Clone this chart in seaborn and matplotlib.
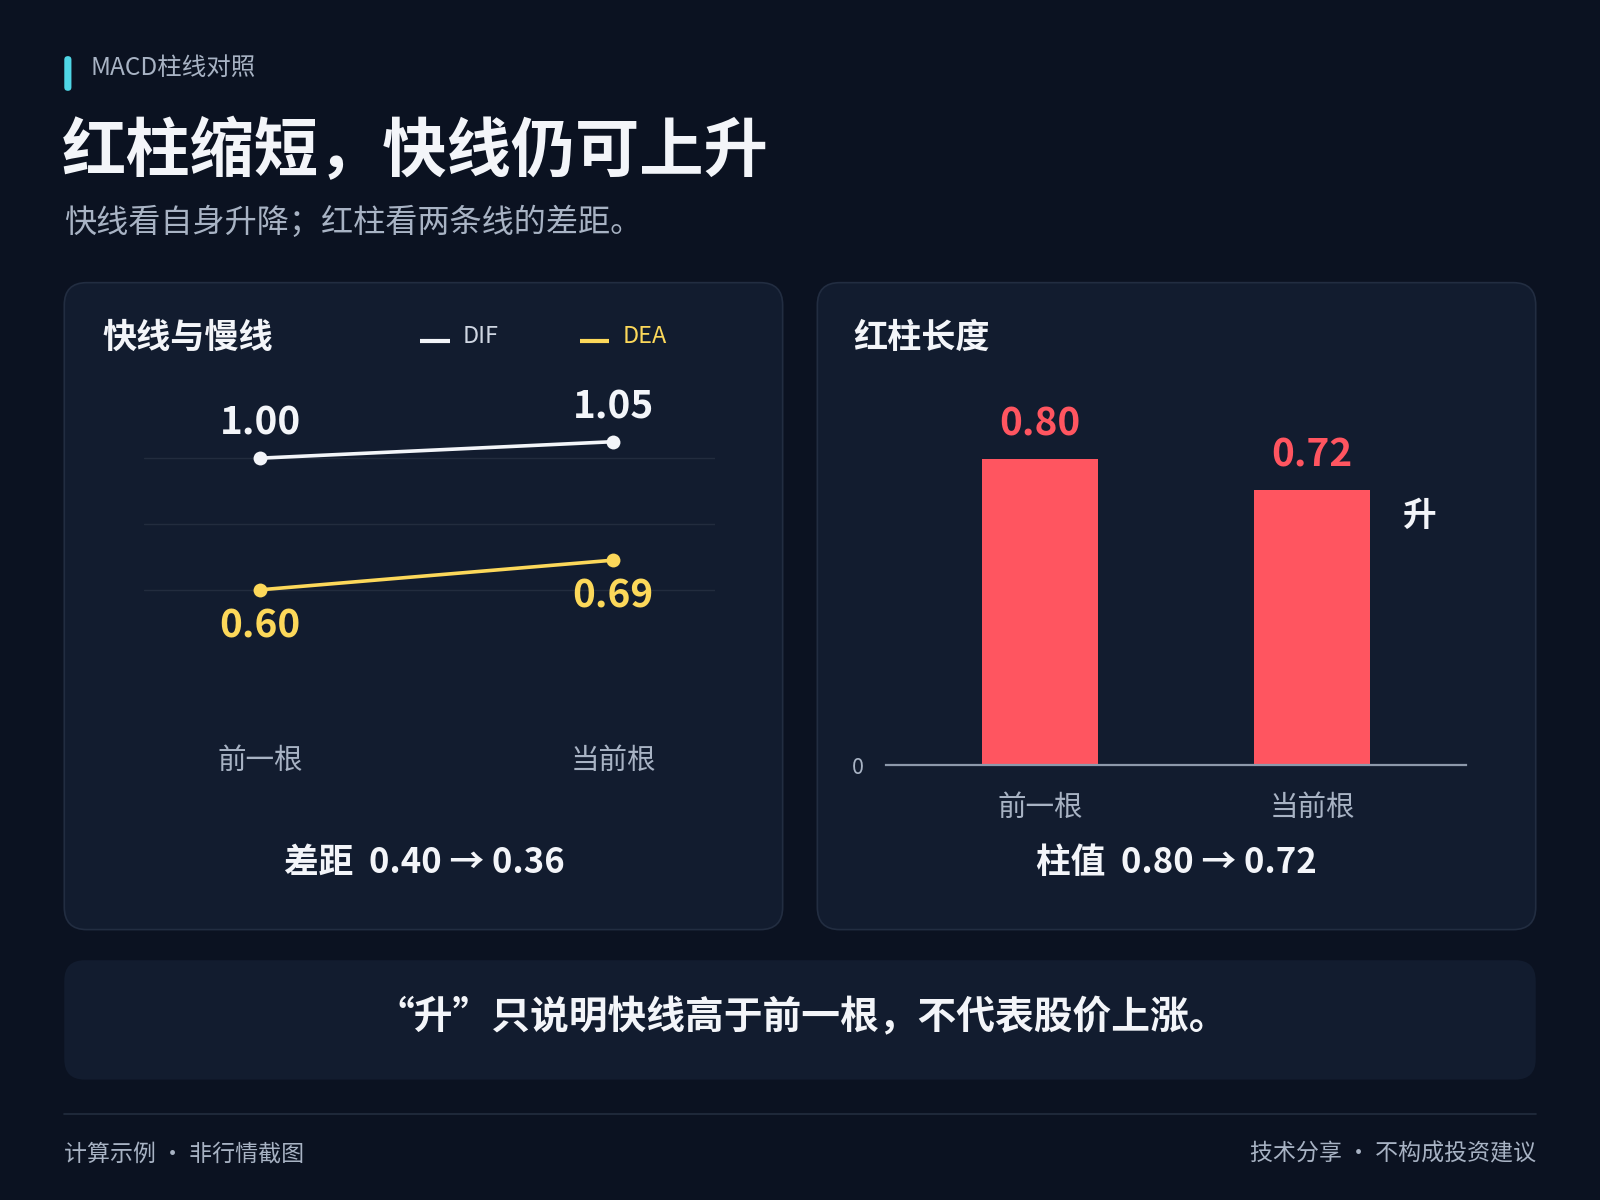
import matplotlib
matplotlib.use('Agg')
import matplotlib.pyplot as plt
from matplotlib.patches import FancyBboxPatch
import seaborn as sns

# data
bars = ['前一根', '当前根']
dif = [1.00, 1.05]
dea = [0.60, 0.69]
hist = [0.80, 0.72]
gap_text = '差距  0.40 → 0.36'
hist_text = '柱值  0.80 → 0.72'

# colours
BG = '#0b1221'
PANEL = '#121c2f'
BORDER = '#222d41'
GRID = '#222c3e'
WHITE = '#f3f5f9'
YELLOW = '#fcd85a'
RED = '#ff5560'
GREY = '#a8b3c4'
CYAN = '#4fd6e6'

sns.set_theme(style='dark')
plt.rcParams['font.family'] = ['Noto Sans CJK SC', 'DejaVu Sans']

W, H = 1568, 1176  # reference pixel grid
DY = 3  # CJK font sits a little high with va='center'


def pt(px):
    # reference pixels -> points on a 1600px wide figure at dpi 100
    return px * 1600 / W * 0.72


def box(x0, y0, x1, y1):
    return [x0 / W, 1 - y1 / H, (x1 - x0) / W, (y1 - y0) / H]


fig = plt.figure(figsize=(16, 12), dpi=100, facecolor=BG)
bg = fig.add_axes([0, 0, 1, 1])
bg.set_xlim(0, W)
bg.set_ylim(H, 0)
bg.axis('off')


def label(x, y, s, size, color=WHITE, bold=False, ha='left'):
    bg.text(x, y + DY, s, color=color, fontsize=pt(size), fontweight='bold' if bold else 'normal',
            va='center', ha=ha)


# header
bg.add_patch(FancyBboxPatch((63, 55), 7, 34, boxstyle='round,pad=0,rounding_size=3.5', fc=CYAN, ec='none'))
label(89, 64, 'MACD柱线对照', 24, GREY)
label(61, 146, '红柱缩短，快线仍可上升', 63, bold=True)
label(63, 215, '快线看自身升降；红柱看两条线的差距。', 31.5, GREY)

# panels
for x0 in (63, 801):
    bg.add_patch(FancyBboxPatch((x0, 277), 704, 634, boxstyle='round,pad=0,rounding_size=22',
                                fc=PANEL, ec=BORDER, lw=1.2))
bg.add_patch(FancyBboxPatch((63, 941), 1442, 117, boxstyle='round,pad=0,rounding_size=20', fc=PANEL, ec='none'))

# left panel header + legend
label(100, 328, '快线与慢线', 33.5, bold=True)
bg.plot([412, 441], [334, 334], color=WHITE, lw=3, solid_capstyle='butt')
label(453, 327, 'DIF', 23, '#cfd6e2')
bg.plot([568, 597], [334, 334], color=YELLOW, lw=3, solid_capstyle='butt')
label(610, 327, 'DEA', 23, YELLOW)
label(416, 842, gap_text, 34, bold=True, ha='center')

# right panel header
label(836, 328, '红柱长度', 33.5, bold=True)
label(1391, 503, '升', 33, bold=True, ha='center')
label(1153, 842, hist_text, 34, bold=True, ha='center')

# bottom note + footer
label(786, 994, '“升”只说明快线高于前一根，不代表股价上涨。', 38, bold=True, ha='center')
bg.plot([63, 1505], [1092, 1092], color='#232d3e', lw=1.2)
label(63, 1128, '计算示例 · 非行情截图', 22.5, GREY)
label(1505, 1128, '技术分享 · 不构成投资建议', 22.5, GREY, ha='right')

# line chart (DIF / DEA)
ax1 = fig.add_axes(box(141, 380, 701, 700))
ax1.set_facecolor('none')
sns.lineplot(x=bars, y=dif, color=WHITE, marker='o', markersize=10, markeredgewidth=0,
             linewidth=2.6, sort=False, ax=ax1)
sns.lineplot(x=bars, y=dea, color=YELLOW, marker='o', markersize=10, markeredgewidth=0,
             linewidth=2.6, sort=False, ax=ax1)
ax1.set_xlim(-0.33, 1.29)
ax1.set_ylim(1.0 - (700 - 449) / 322.5, 1.0 + (449 - 380) / 322.5)
ax1.set_yticks([0.6, 0.8, 1.0])
ax1.set_yticklabels([])
ax1.grid(axis='y', color=GRID, lw=1)
ax1.grid(axis='x', visible=False)
ax1.set_xticks([0, 1])
ax1.set_xticklabels(bars, color=GREY, fontsize=pt(28))
ax1.tick_params(axis='both', length=0)
ax1.tick_params(axis='x', pad=pt(31))
for s in ax1.spines.values():
    s.set_visible(False)
for i, v in enumerate(dif):
    ax1.annotate(f'{v:.2f}', (i, v), xytext=(0, pt(34)), textcoords='offset points', ha='center', va='center',
                 color=WHITE, fontsize=pt(38), fontweight='bold')
for i, v in enumerate(dea):
    ax1.annotate(f'{v:.2f}', (i, v), xytext=(0, -pt(35)), textcoords='offset points', ha='center', va='center',
                 color=YELLOW, fontsize=pt(38), fontweight='bold')

# bar chart (MACD histogram)
ax2 = fig.add_axes(box(868, 380, 1437, 750))
ax2.set_facecolor('none')
sns.barplot(x=bars, y=hist, color=RED, saturation=1, width=0.427, edgecolor='none', linewidth=0, ax=ax2)
ax2.set_xlim(-0.566, 1.566)
ax2.set_ylim(0, (750 - 380) / 375)
ax2.set_yticks([0])
ax2.set_yticklabels(['0'], color=GREY, fontsize=pt(21))
ax2.set_xticks([0, 1])
ax2.set_xticklabels(bars, color=GREY, fontsize=pt(28))
ax2.tick_params(axis='both', length=0)
ax2.tick_params(axis='x', pad=pt(27))
ax2.tick_params(axis='y', pad=pt(22))
ax2.set_xlabel('')
ax2.set_ylabel('')
ax2.grid(False)
for name, s in ax2.spines.items():
    s.set_visible(name == 'bottom')
ax2.spines['bottom'].set_color('#8d99ab')
ax2.spines['bottom'].set_linewidth(1.6)
for i, v in enumerate(hist):
    ax2.annotate(f'{v:.2f}', (i, v), xytext=(0, pt(34)), textcoords='offset points', ha='center', va='center',
                 color=RED, fontsize=pt(38), fontweight='bold')

plt.savefig('out.png', dpi=100, facecolor=BG)
plt.close(fig)
